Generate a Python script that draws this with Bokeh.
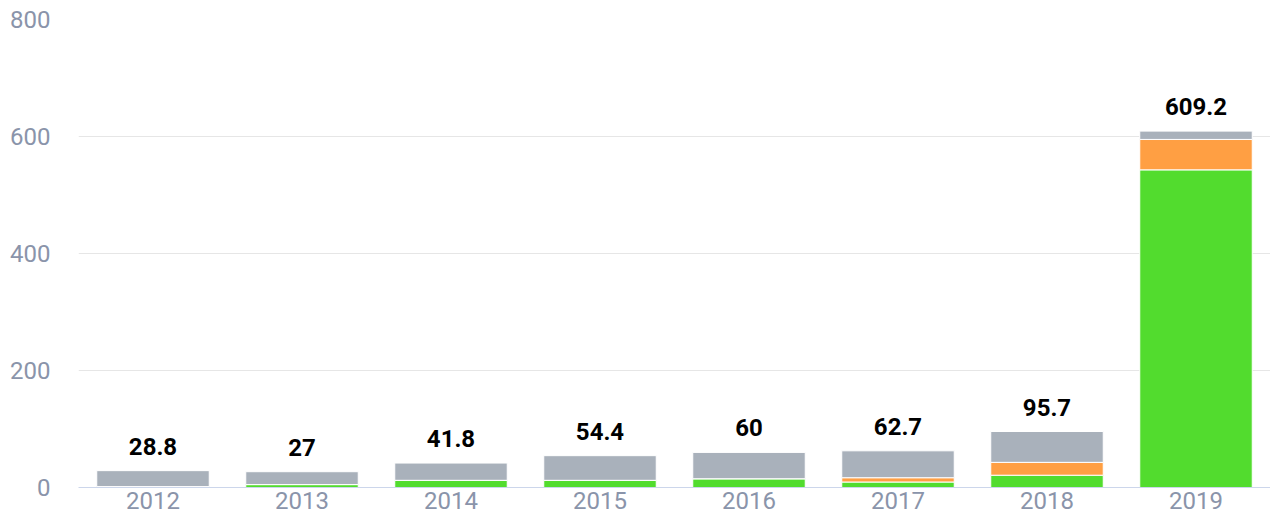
from bokeh.plotting import figure
from bokeh.models import ColumnDataSource, FixedTicker, LabelSet, Range1d, FactorRange
from bokeh.core.properties import value
from bokeh.embed import file_html
from bokeh.resources import INLINE

years = ["2012", "2013", "2014", "2015", "2016", "2017", "2018", "2019"]
green = [1.5, 5, 12.3, 12.3, 15, 9.4, 21, 543]
orange = [0, 0, 0, 0, 0, 7.3, 22, 52]
gray = [27.3, 22, 29.5, 42.1, 45, 46, 52.7, 14.2]
totals = [28.8, 27, 41.8, 54.4, 60, 62.7, 95.7, 609.2]
y_ticks = [0, 200, 400, 600, 800]

colors = ["#52dc2e", "#ff9f43", "#a9b1bb"]
tick_color = "#8a94aa"
FONT = "Roboto"

src = ColumnDataSource(dict(
    year=years, green=green, orange=orange, gray=gray,
    total=totals, label=[f"{t:g}" for t in totals],
))

p = figure(
    x_range=FactorRange(factors=years, range_padding=0),
    y_range=Range1d(0, 800),
    width=1270, height=515,
    output_backend="svg", toolbar_location=None,
    min_border_left=78, min_border_right=0, min_border_top=19, min_border_bottom=28,
)
p.outline_line_color = None
p.background_fill_color = "white"
p.border_fill_color = "white"

p.vbar_stack(["green", "orange", "gray"], x="year", width=0.755, color=colors,
             line_color="white", line_width=1, source=src)

labels = LabelSet(x="year", y="total", text="label", source=src, y_offset=16,
                  text_align="center", text_baseline="alphabetic",
                  text_font=value(FONT), text_font_size="24px",
                  text_font_style="bold", text_color="#000000")
p.add_layout(labels)

p.xgrid.grid_line_color = None
p.ygrid.ticker = FixedTicker(ticks=y_ticks)
p.ygrid.grid_line_color = "#e6e6e6"
p.ygrid.grid_line_width = 1

p.yaxis.ticker = FixedTicker(ticks=y_ticks)
p.yaxis.axis_line_color = None
p.yaxis.major_tick_line_color = None
p.yaxis.minor_tick_line_color = None
p.yaxis.major_tick_out = 0
p.yaxis.major_tick_in = 0
p.yaxis.minor_tick_out = 0
p.yaxis.major_label_standoff = 28
p.yaxis.major_label_text_font = FONT
p.yaxis.major_label_text_font_size = "24px"
p.yaxis.major_label_text_color = tick_color

p.xaxis.axis_line_color = "#ccd6eb"
p.xaxis.axis_line_width = 1
p.xaxis.major_tick_line_color = None
p.xaxis.minor_tick_line_color = None
p.xaxis.major_tick_out = 0
p.xaxis.major_tick_in = 0
p.xaxis.minor_tick_out = 0
p.xaxis.major_label_standoff = 4
p.xaxis.major_label_text_font = FONT
p.xaxis.major_label_text_font_size = "24px"
p.xaxis.major_label_text_color = tick_color

open("out.html", "w").write(file_html(p, INLINE))
